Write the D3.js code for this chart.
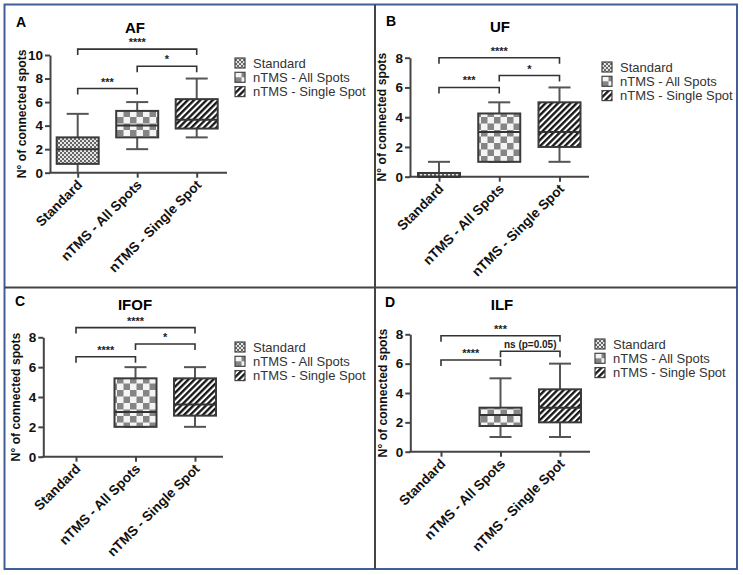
<!DOCTYPE html>
<html>
<head>
<meta charset="utf-8">
<script src="https://cdn.jsdelivr.net/npm/d3@7"></script>
<style>
  body { margin: 0; background: #fff; }
  svg { display: block; font-family: "Liberation Sans", Arial, sans-serif; }
</style>
</head>
<body>
<div id="chart"></div>
<script>
// groups shown on every panel
const categories = ["Standard", "nTMS - All Spots", "nTMS - Single Spot"];

// box stats per group: [min, q1, median, q3, max]  (null = no data)
const boxesAF = [[0, 0.75, 2, 3, 5], [2, 3, 4, 5.25, 6], [3, 3.75, 4.5, 6.25, 8]];
const boxesUF = [[0, 0, 0, 0.25, 1], [1, 1, 3, 4.25, 5], [1, 2, 3, 5, 6]];
const boxesIFOF = [null, [2, 2, 3, 5.25, 6], [2, 2.75, 3.5, 5.25, 6]];
const boxesILF = [null, [1, 1.75, 2.5, 3, 5], [1, 2, 3, 4.25, 6]];

// significance brackets: group index from/to, height (y units), label
const bracketsAF = [
  { from: 0, to: 1, y: 7.15, label: "***" },
  { from: 1, to: 2, y: 9.05, label: "*" },
  { from: 0, to: 2, y: 10.5, label: "****" }
];
const bracketsUF = [
  { from: 0, to: 1, y: 6.0, label: "***" },
  { from: 1, to: 2, y: 6.8, label: "*" },
  { from: 0, to: 2, y: 8.0, label: "****" }
];
const bracketsIFOF = [
  { from: 0, to: 1, y: 6.7, label: "****" },
  { from: 1, to: 2, y: 7.55, label: "*" },
  { from: 0, to: 2, y: 8.65, label: "****" }
];
const bracketsILF = [
  { from: 0, to: 1, y: 6.25, label: "****" },
  { from: 1, to: 2, y: 6.85, label: "ns (p=0.05)" },
  { from: 0, to: 2, y: 7.9, label: "***" }
];

const ticksAF = [0, 2, 4, 6, 8, 10];
const ticks8 = [0, 2, 4, 6, 8];

const yLabel = "N° of connected spots";

// panel placement (pixels)
const panels = [
  { letter: "A", title: "AF", boxes: boxesAF, brackets: bracketsAF, ticks: ticksAF,
    ox: 50, yTop: 55, y0: 172.7, xEnd: 227, c0: 77.7, c2: 196.7,
    titleX: 135, titleY: 33, letterX: 16, letterY: 27, legX: 235, legY: 63 },
  { letter: "B", title: "UF", boxes: boxesUF, brackets: bracketsUF, ticks: ticks8,
    ox: 410, yTop: 57.7, y0: 176.7, xEnd: 589, c0: 439, c2: 559.5,
    titleX: 500, titleY: 32, letterX: 386, letterY: 26, legX: 602, legY: 67 },
  { letter: "C", title: "IFOF", boxes: boxesIFOF, brackets: bracketsIFOF, ticks: ticks8,
    ox: 43.3, yTop: 337.3, y0: 456.7, xEnd: 223, c0: 76, c2: 195,
    titleX: 135, titleY: 310, letterX: 15, letterY: 306, legX: 235, legY: 347 },
  { letter: "D", title: "ILF", boxes: boxesILF, brackets: bracketsILF, ticks: ticks8,
    ox: 410.3, yTop: 334.3, y0: 451.7, xEnd: 590, c0: 441, c2: 560,
    titleX: 502, titleY: 310, letterX: 385, letterY: 307, legX: 595, legY: 344 }
];

const W = 743, H = 575;
const svg = d3.select("#chart").append("svg")
  .attr("width", W).attr("height", H);

// fill patterns
const defs = svg.append("defs");
const p1 = defs.append("pattern").attr("id", "pat0")
  .attr("patternUnits", "userSpaceOnUse").attr("width", 4).attr("height", 4);
p1.append("rect").attr("width", 4).attr("height", 4).attr("fill", "#e6e6e6");
p1.append("rect").attr("width", 2).attr("height", 2).attr("fill", "#666");
p1.append("rect").attr("x", 2).attr("y", 2).attr("width", 2).attr("height", 2).attr("fill", "#666");

const p2 = defs.append("pattern").attr("id", "pat1")
  .attr("patternUnits", "userSpaceOnUse").attr("width", 13).attr("height", 13);
p2.append("rect").attr("width", 13).attr("height", 13).attr("fill", "#f4f4f4");
p2.append("rect").attr("width", 6.5).attr("height", 6.5).attr("fill", "#858585");
p2.append("rect").attr("x", 6.5).attr("y", 6.5).attr("width", 6.5).attr("height", 6.5).attr("fill", "#858585");

const p3 = defs.append("pattern").attr("id", "pat2")
  .attr("patternUnits", "userSpaceOnUse").attr("width", 4.4).attr("height", 4.4)
  .attr("patternTransform", "rotate(45)");
p3.append("rect").attr("width", 4.4).attr("height", 4.4).attr("fill", "#fff");
p3.append("line").attr("x1", 1.2).attr("y1", 0).attr("x2", 1.2).attr("y2", 4.4)
  .attr("stroke", "#111").attr("stroke-width", 2.3);

// outer frame + dividers
svg.append("rect").attr("x", 4.5).attr("y", 4.5).attr("width", 732.5).attr("height", 564.5)
  .attr("fill", "none").attr("stroke", "#3f5e9a").attr("stroke-width", 2);
svg.append("line").attr("x1", 4.5).attr("x2", 737).attr("y1", 287.5).attr("y2", 287.5)
  .attr("stroke", "#444").attr("stroke-width", 2);
svg.append("line").attr("x1", 375).attr("x2", 375).attr("y1", 4.5).attr("y2", 569)
  .attr("stroke", "#444").attr("stroke-width", 2);

const boxW = 42, capW = 22, legDrop = 6;

panels.forEach(p => {
  const g = svg.append("g");
  const yMax = d3.max(p.ticks);
  const y = d3.scaleLinear().domain([0, yMax]).range([p.y0, p.yTop]);
  const x = d3.scalePoint().domain(categories).range([p.c0, p.c2]);

  // letter + title
  g.append("text").attr("x", p.letterX).attr("y", p.letterY)
    .attr("font-size", 14).attr("font-weight", "bold").text(p.letter);
  g.append("text").attr("x", p.titleX).attr("y", p.titleY).attr("text-anchor", "middle")
    .attr("font-size", 15).attr("font-weight", "bold").text(p.title);

  // y axis
  const ya = g.append("g").attr("transform", `translate(${p.ox},0)`)
    .call(d3.axisLeft(y).tickValues(p.ticks).tickSize(5).tickSizeOuter(0).tickPadding(2));
  ya.select(".domain").attr("stroke", "#444").attr("stroke-width", 2);
  ya.selectAll(".tick line").attr("stroke", "#444").attr("stroke-width", 2);
  ya.selectAll(".tick text").attr("font-size", 13.5).attr("font-weight", "bold")
    .attr("fill", "#111").attr("font-family", "Liberation Sans, Arial, sans-serif");

  g.append("text")
    .attr("transform", `translate(${p.ox - 28},${(p.y0 + p.yTop) / 2}) rotate(-90)`)
    .attr("text-anchor", "middle").attr("dy", "0.35em")
    .attr("font-size", 12.2).attr("font-weight", "bold").attr("fill", "#111").text(yLabel);

  // x axis
  g.append("line").attr("x1", p.ox - 1).attr("x2", p.xEnd).attr("y1", p.y0).attr("y2", p.y0)
    .attr("stroke", "#444").attr("stroke-width", 2);
  const xa = g.append("g").attr("transform", `translate(0,${p.y0})`)
    .call(d3.axisBottom(x).tickSize(5).tickSizeOuter(0));
  xa.select(".domain").remove();
  xa.selectAll(".tick line").attr("stroke", "#444").attr("stroke-width", 2);
  xa.selectAll(".tick text")
    .attr("font-size", 13.6).attr("font-weight", "bold").attr("fill", "#111")
    .attr("font-family", "Liberation Sans, Arial, sans-serif")
    .attr("text-anchor", "end").attr("dy", null).attr("y", 0)
    .attr("transform", "translate(5,13) rotate(-45)");

  // boxes
  p.boxes.forEach((b, i) => {
    if (!b) return;
    const cx = x(categories[i]);
    const [mn, q1, md, q3, mx] = b;
    const wg = g.append("g").attr("stroke", "#555").attr("stroke-width", 2);
    wg.append("line").attr("x1", cx).attr("x2", cx).attr("y1", y(mx)).attr("y2", y(q3));
    wg.append("line").attr("x1", cx).attr("x2", cx).attr("y1", y(q1)).attr("y2", y(mn));
    wg.append("line").attr("x1", cx - capW / 2).attr("x2", cx + capW / 2).attr("y1", y(mx)).attr("y2", y(mx));
    if (mn > 0) wg.append("line").attr("x1", cx - capW / 2).attr("x2", cx + capW / 2).attr("y1", y(mn)).attr("y2", y(mn));
    g.append("rect").attr("x", cx - boxW / 2).attr("width", boxW)
      .attr("y", y(q3)).attr("height", Math.max(0, y(q1) - y(q3)))
      .attr("fill", `url(#pat${i})`).attr("stroke", "#3a3a3a").attr("stroke-width", 2);
    g.append("line").attr("x1", cx - boxW / 2).attr("x2", cx + boxW / 2)
      .attr("y1", y(md)).attr("y2", y(md)).attr("stroke", "#333").attr("stroke-width", 2);
  });

  // brackets
  p.brackets.forEach(br => {
    const xa1 = x(categories[br.from]), xa2 = x(categories[br.to]);
    const yy = y(br.y);
    g.append("path")
      .attr("d", `M${xa1},${yy + legDrop}V${yy}H${xa2}V${yy + legDrop}`)
      .attr("fill", "none").attr("stroke", "#333").attr("stroke-width", 1.6);
    g.append("text").attr("x", (xa1 + xa2) / 2).attr("y", yy - 3)
      .attr("text-anchor", "middle").attr("font-size", br.label.length > 5 ? 10 : 11)
      .attr("font-weight", "bold").attr("fill", "#222").text(br.label);
  });

  // legend
  const lg = g.append("g").attr("transform", `translate(${p.legX},${p.legY})`);
  categories.forEach((c, i) => {
    const row = lg.append("g").attr("transform", `translate(0,${i * 14.3})`);
    row.append("rect").attr("x", 0).attr("y", -5).attr("width", 10).attr("height", 10)
      .attr("fill", `url(#pat${i})`).attr("stroke", "#444").attr("stroke-width", 1.2);
    row.append("text").attr("x", 18).attr("y", 0).attr("dy", "0.35em")
      .attr("font-size", 13).attr("fill", "#333").text(c);
  });
});
</script>
</body>
</html>
